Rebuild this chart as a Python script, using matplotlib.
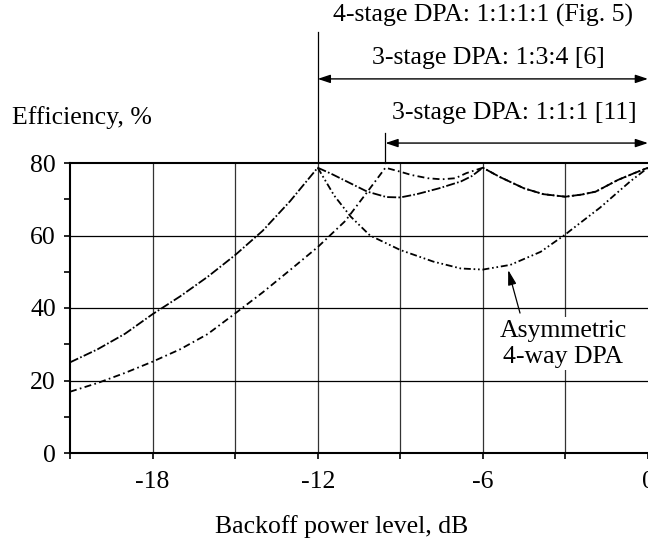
import matplotlib
matplotlib.use("Agg")
import matplotlib.pyplot as plt
from matplotlib.ticker import FixedLocator, NullFormatter, FixedFormatter

plt.rcParams['font.family'] = ['Liberation Serif', 'DejaVu Serif']
plt.rcParams['lines.scale_dashes'] = False

# ---- data ----
x_4stage = [-21, -20, -19, -18, -17, -16, -15, -14, -13, -12, -11.5, -11.05, -10.2, -9.5, -9,
            -8.4, -7.6, -6.8, -6.4, -6, -5.4, -4.5, -3.8, -3, -2.4, -1.9, -1.1, -0.5, 0]
y_4stage = [25.0, 28.6, 32.9, 38.3, 43.2, 48.6, 54.6, 61.3, 69.5, 78.7, 77.0, 75.3, 72.1, 70.6, 70.5,
            71.4, 73.0, 74.9, 76.4, 78.7, 76.2, 73.0, 71.4, 70.7, 71.3, 72.1, 75.3, 77.2, 78.7]

x_3stage = [-21, -20, -19, -18, -17, -16, -15, -14, -13, -12, -11, -10.2, -9.54, -9, -8.6, -8,
            -7.5, -7, -6.6, -6, -5.4, -4.5, -3.8, -3, -2.4, -1.9, -1.1, -0.5, 0]
y_3stage = [16.9, 19.3, 22.1, 25.2, 28.6, 32.8, 38.5, 44.3, 50.5, 56.8, 64.0, 72.0, 78.7, 77.6, 76.7, 75.8,
            75.5, 75.8, 77.2, 78.7, 76.2, 73.0, 71.4, 70.7, 71.3, 72.1, 75.3, 77.2, 78.7]

x_asym = [-12, -11.4, -10.8, -10.1, -9, -7.8, -6.8, -6, -5, -3.9, -3, -2.8, -1.74, -0.65, 0]
y_asym = [78.7, 71.0, 65.2, 60.0, 56.0, 52.8, 50.9, 50.6, 51.9, 55.5, 60.3, 61.5, 67.7, 74.9, 78.7]

x_major = [-18, -12, -6, 0]
x_major_labels = ['-18', '-12', '-6', '0']
x_minor = [-21, -15, -9, -3]
y_major = [0, 20, 40, 60, 80]
y_minor = [10, 30, 50, 70]

FS = 18.5

fig = plt.figure(figsize=(6.48, 5.41), dpi=100)
ax = fig.add_axes([70 / 648, 88 / 541, 578 / 648, 290 / 541])
ax.set_xlim(-21, 0)
ax.set_ylim(0, 80)

# grid
for xv in [-18, -15, -12, -9, -6, -3]:
    ax.axvline(xv, color='#333333', lw=0.9, zorder=1)
for yv in [20, 40, 60]:
    ax.axhline(yv, color='black', lw=0.9, zorder=2.5)

lw = 1.3
ax.plot(x_4stage, y_4stage, color='black', lw=lw, dashes=(6.5, 1.6, 1.2, 1.6), zorder=3)
ax.plot(x_3stage, y_3stage, color='black', lw=lw, dashes=(5, 2.4, 1.2, 2.4), zorder=3)
ax.plot(x_asym, y_asym, color='black', lw=lw, dashes=(5, 2, 1.2, 2, 1.2, 2), zorder=3)

# spines
for s in ['left', 'bottom', 'top']:
    ax.spines[s].set_linewidth(1.5)
ax.spines['right'].set_visible(False)

ax.xaxis.set_major_locator(FixedLocator(x_major))
ax.xaxis.set_major_formatter(FixedFormatter(x_major_labels))
ax.xaxis.set_minor_locator(FixedLocator(x_minor))
ax.xaxis.set_minor_formatter(NullFormatter())
ax.yaxis.set_major_locator(FixedLocator(y_major))
ax.yaxis.set_minor_locator(FixedLocator(y_minor))
ax.yaxis.set_minor_formatter(NullFormatter())
ax.tick_params(axis='both', which='both', direction='out', length=4, width=1.2, labelsize=FS)
ax.tick_params(axis='x', which='major', pad=9)
ax.tick_params(axis='y', which='major', pad=6)

# top annotations
ax.plot([-12, -12], [80, 116.1], color='black', lw=0.9, clip_on=False)
ax.plot([-9.54, -9.54], [80, 88.3], color='black', lw=0.9, clip_on=False)
arrowprops = dict(arrowstyle='<|-|>,head_length=0.75,head_width=0.25', color='black', lw=1.0,
                  shrinkA=0, shrinkB=0, mutation_scale=10)
ax.annotate('', xy=(0, 103.2), xytext=(-12, 103.2), arrowprops=arrowprops, annotation_clip=False)
ax.annotate('', xy=(0, 85.5), xytext=(-9.54, 85.5), arrowprops=arrowprops, annotation_clip=False)
ax.text(-6.0, 120.6, '4-stage DPA: 1:1:1:1 (Fig. 5)', ha='center', va='center', fontsize=FS, clip_on=False)
ax.text(-5.81, 109.0, '3-stage DPA: 1:3:4 [6]', ha='center', va='center', fontsize=FS, clip_on=False)
ax.text(-4.87, 93.8, '3-stage DPA: 1:1:1 [11]', ha='center', va='center', fontsize=FS, clip_on=False)

# asymmetric label
ax.text(-3.09, 30.1, 'Asymmetric\n4-way DPA', ha='center', va='center', fontsize=FS, linespacing=1.2,
        zorder=2, bbox=dict(facecolor='white', edgecolor='none', pad=2))
ax.annotate('', xy=(-5.08, 50.5), xytext=(-4.65, 38.6),
            arrowprops=dict(arrowstyle='-|>,head_length=0.9,head_width=0.25', color='black', lw=0.9,
                            shrinkA=0, shrinkB=0, mutation_scale=10))

fig.text(12 / 648, 1 - 118 / 541, 'Efficiency, %', ha='left', va='center', fontsize=FS)
fig.text(342 / 648, 1 - 527 / 541, 'Backoff power level, dB', ha='center', va='center', fontsize=FS)

fig.savefig('out.png', dpi=100)
